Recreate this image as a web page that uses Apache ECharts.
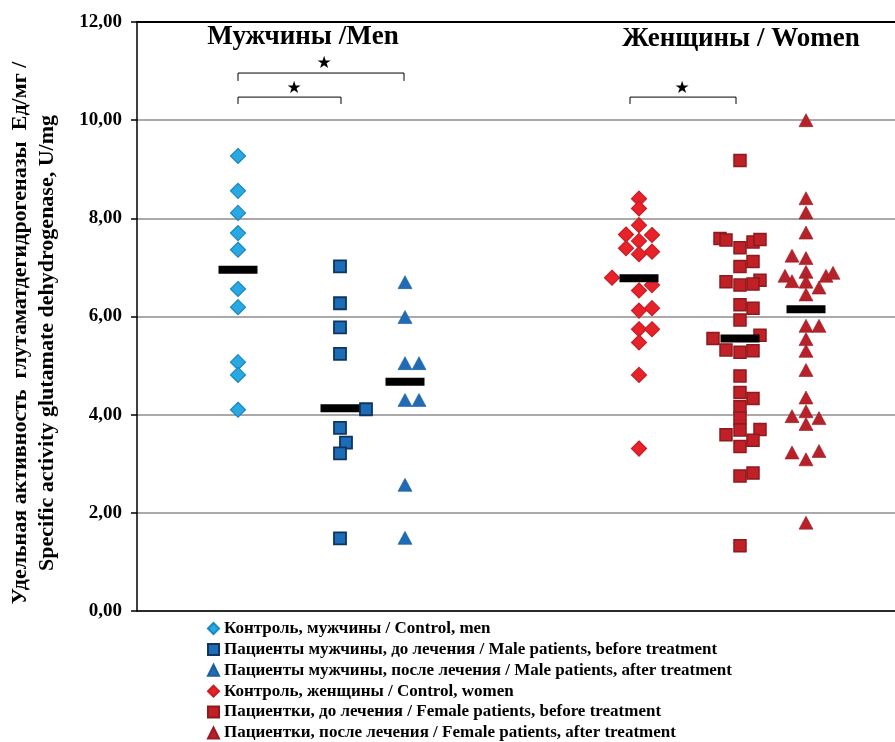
<!DOCTYPE html>
<html>
<head>
<meta charset="utf-8">
<script src="https://cdn.jsdelivr.net/npm/echarts@6/dist/echarts.min.js"></script>
<style>
  html, body { margin: 0; padding: 0; background: #fff; }
  #chart { width: 895px; height: 742px; }
</style>
</head>
<body>
<div id="chart"></div>
<script>
// Group names (legend)
const groupNames = [
  'Контроль, мужчины / Control, men',
  'Пациенты мужчины, до лечения / Male patients, before treatment',
  'Пациенты мужчины, после лечения / Male patients, after treatment',
  'Контроль, женщины / Control, women',
  'Пациентки, до лечения / Female patients, before treatment',
  'Пациентки, после лечения / Female patients, after treatment'
];

// Column position of each group on the hidden x scale
const groupX = [1.01, 2.03, 2.68, 5.02, 6.03, 6.69];

// Individual values, U/mg, with side-by-side spread of overlapping points
const menControl = [9.27, 8.56, 8.11, 7.70, 7.36, 6.56, 6.19, 5.07, 4.81, 4.10];
const menControlSpread = [0, 0, 0, 0, 0, 0, 0, 0, 0, 0];

const menBefore = [7.02, 6.27, 5.78, 5.24, 4.11, 3.73, 3.43, 3.21, 1.48];
const menBeforeSpread = [0, 0, 0, 0, 0.26, 0, 0.06, 0, 0];

const menAfter = [6.70, 5.99, 5.05, 5.05, 4.30, 4.30, 2.57, 1.49];
const menAfterSpread = [0, 0, 0, 0.14, 0, 0.14, 0, 0];

const womenControl = [8.40, 8.20, 7.86, 7.67, 7.66, 7.54, 7.39, 7.32, 7.27, 6.79, 6.64, 6.53,
  6.12, 6.17, 5.74, 5.74, 5.47, 4.81, 3.31];
const womenControlSpread = [0, 0, 0, -0.13, 0.13, 0, -0.13, 0.13, 0, -0.27, 0.13, 0,
  0, 0.13, 0, 0.13, 0, 0, 0];

const womenBefore = [9.18, 7.59, 7.56, 7.40, 7.52, 7.57, 7.12, 7.02, 6.71, 6.74, 6.64, 6.66,
  6.24, 6.17, 5.93, 5.55, 5.62, 5.32, 5.27, 5.30, 4.79, 4.45, 4.33, 4.16, 3.93, 3.69,
  3.70, 3.59, 3.48, 3.35, 2.75, 2.81, 1.33];
const womenBeforeSpread = [0, -0.20, -0.14, 0, 0.13, 0.20, 0.13, 0, -0.14, 0.20, 0, 0.13,
  0, 0.13, 0, -0.27, 0.20, -0.14, 0, 0.13, 0, 0, 0.13, 0, 0, 0,
  0.20, -0.14, 0.13, 0, 0, 0.13, 0];

const womenAfter = [10.0, 8.41, 8.12, 7.71, 7.24, 7.19, 6.91, 6.83, 6.72, 6.71, 6.83, 6.89,
  6.59, 6.45, 5.81, 5.81, 5.54, 5.30, 4.91, 4.35, 4.07, 3.97, 3.93, 3.81, 3.23, 3.26,
  3.09, 1.80];
const womenAfterSpread = [0, 0, 0, 0, -0.14, 0, 0, -0.21, -0.14, 0, 0.20, 0.27,
  0.13, 0, 0, 0.13, 0, 0, 0, 0, 0, -0.14, 0.13, 0, -0.14, 0.13,
  0, 0];

// Group medians
const medians = [6.95, 4.13, 4.67, 6.78, 5.55, 6.15];

// Axis ticks
const yTicks = [0, 2, 4, 6, 8, 10, 12];

const values = [menControl, menBefore, menAfter, womenControl, womenBefore, womenAfter];
const spreads = [menControlSpread, menBeforeSpread, menAfterSpread,
  womenControlSpread, womenBeforeSpread, womenAfterSpread];

const serif = '"Liberation Serif", "Times New Roman", serif';

const markStyles = [
  { symbol: 'diamond', size: 15, color: '#29A9E2', border: '#1C86C0', bw: 1.2 },
  { symbol: 'rect', size: 12, color: '#1C6DB8', border: '#0F355F', bw: 1.8 },
  { symbol: 'triangle', size: [14, 13], color: '#1F6BB5', border: '#1A5E9F', bw: 0.6 },
  { symbol: 'diamond', size: 15, color: '#E8222A', border: '#C91D24', bw: 1.2 },
  { symbol: 'rect', size: 12, color: '#C02026', border: '#8C1A1F', bw: 1.5 },
  { symbol: 'triangle', size: [14, 13], color: '#B7212A', border: '#9A1B23', bw: 0.6 }
];

const series = values.map((vals, g) => ({
  name: groupNames[g],
  type: 'scatter',
  symbol: markStyles[g].symbol,
  symbolSize: markStyles[g].size,
  itemStyle: {
    color: markStyles[g].color,
    borderColor: markStyles[g].border,
    borderWidth: markStyles[g].bw,
    opacity: 1
  },
  z: 3,
  data: vals.map((v, i) => [groupX[g] + spreads[g][i], v])
}));

// Median markers drawn as short black bars
series.push({
  name: 'median',
  type: 'scatter',
  symbol: 'rect',
  symbolSize: [39, 8],
  itemStyle: { color: '#000', opacity: 1 },
  z: 5,
  silent: true,
  data: medians.map((m, g) => [groupX[g], m])
});

const legendIcons = ['diamond', 'rect', 'triangle', 'diamond', 'rect', 'triangle'];

const chart = echarts.init(document.getElementById('chart'));
chart.setOption({
  animation: false,
  backgroundColor: '#fff',
  grid: { left: 137, right: 0, top: 22, bottom: 131 },
  xAxis: [
    {
      type: 'value', min: 0, max: 7.58,
      axisLine: { show: true, onZero: false, lineStyle: { color: '#000', width: 1.5 } },
      axisTick: { show: false }, axisLabel: { show: false }, splitLine: { show: false }
    },
    {
      type: 'value', min: 0, max: 7.58, position: 'top',
      axisLine: { show: true, onZero: false, lineStyle: { color: '#000', width: 2 } },
      axisTick: { show: false }, axisLabel: { show: false }, splitLine: { show: false }
    }
  ],
  yAxis: {
    type: 'value', min: yTicks[0], max: yTicks[yTicks.length - 1], interval: 2,
    axisLine: { show: true, lineStyle: { color: '#000', width: 1.5 } },
    axisTick: { show: true, length: 6, lineStyle: { color: '#000', width: 1.5 } },
    axisLabel: {
      margin: 15,
      fontFamily: serif, fontWeight: 'bold', fontSize: 19, color: '#000',
      formatter: v => v.toFixed(2).replace('.', ',')
    },
    splitLine: { show: true, lineStyle: { color: '#8C8C8C', width: 1.5 } }
  },
  legend: {
    orient: 'vertical',
    left: 207, top: 620, height: 140,
    padding: 0,
    itemWidth: 11, itemHeight: 11, itemGap: 3.9,
    textStyle: { fontFamily: serif, fontWeight: 'bold', fontSize: 17, color: '#000', lineHeight: 17 },
    data: groupNames.map((n, g) => ({ name: n, icon: legendIcons[g] })),
    selectedMode: false
  },
  series: series
});

// Titles, axis name and significance brackets
function px(x, y) { return chart.convertToPixel({ xAxisIndex: 0, yAxisIndex: 0 }, [x, y]); }

function bracket(x1, x2, yTop, yLeg, starX, starY) {
  const a = px(x1, yTop), b = px(x2, yTop);
  const legA = px(x1, yLeg), s = px(starX, starY);
  return [
    { type: 'polyline', shape: { points: [[a[0], legA[1]], [a[0], a[1]], [b[0], b[1]], [b[0], legA[1]]] },
      style: { stroke: '#000', lineWidth: 1, fill: null } },
    { type: 'text', x: s[0], y: s[1],
      style: { text: '★', font: 'bold 17px "DejaVu Sans", sans-serif', fill: '#000', align: 'center', verticalAlign: 'middle' } }
  ];
}

chart.setOption({
  graphic: [
    { type: 'text', x: 303, y: 37,
      style: { text: 'Мужчины /Men', font: 'bold 27px ' + serif, fill: '#000', align: 'center', verticalAlign: 'middle' } },
    { type: 'text', x: 741, y: 39,
      style: { text: 'Женщины / Women', font: 'bold 27px ' + serif, fill: '#000', align: 'center', verticalAlign: 'middle' } },
    { type: 'text', x: 20, y: 333, rotation: Math.PI / 2,
      style: { text: 'Удельная активность  глутаматдегидрогеназы  Ед/мг /', font: 'bold 22px ' + serif, fill: '#000', align: 'center', verticalAlign: 'middle' } },
    { type: 'text', x: 47, y: 343, rotation: Math.PI / 2,
      style: { text: 'Specific activity glutamate dehydrogenase, U/mg', font: 'bold 22px ' + serif, fill: '#000', align: 'center', verticalAlign: 'middle' } },
    ...bracket(groupX[0], groupX[2] - 0.01, 10.96, 10.80, 1.87, 11.15),
    ...bracket(groupX[0], groupX[1] + 0.01, 10.47, 10.33, 1.57, 10.64),
    ...bracket(groupX[3] - 0.09, groupX[4] - 0.04, 10.47, 10.33, 5.45, 10.64)
  ]
});
</script>
</body>
</html>
